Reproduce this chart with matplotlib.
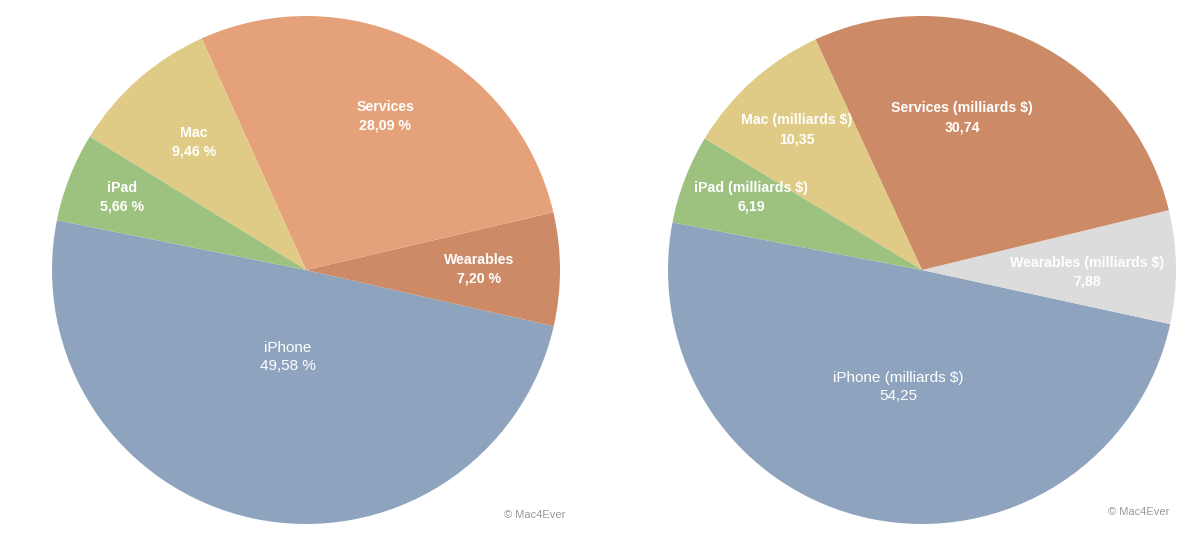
import numpy as np
import matplotlib.pyplot as plt

# segments in drawing order (counter-clockwise from the iPhone/iPad edge)
names = ["iPhone", "Wearables", "Services", "Mac", "iPad"]
share_pct = [49.58, 7.20, 28.09, 9.46, 5.66]
revenue_bn = [54.25, 7.88, 30.74, 10.35, 6.19]

share_labels = ["49,58 %", "7,20 %", "28,09 %", "9,46 %", "5,66 %"]
revenue_labels = ["54,25", "7,88", "30,74", "10,35", "6,19"]

colors_left = ["#8ea4be", "#cc8b66", "#e5a27a", "#dfcb86", "#9dc17f"]
colors_right = ["#8ea4be", "#dcdcdc", "#cc8b66", "#dfcb86", "#9dc17f"]

# label placement: radius fraction and angle offset (deg) per wedge
lab_r_left = [0.35, 0.68, 0.68, 0.67, 0.78]
lab_da_left = [0, 0, -1, 0, 0]
lab_r_right = [0.47, 0.65, 0.62, 0.74, 0.73]
lab_da_right = [0, -1.5, 11, 0, -2]

plt.rcParams['font.family'] = ['Liberation Sans', 'DejaVu Sans']

fig = plt.figure(figsize=(12, 5.48), dpi=100)
fig.patch.set_facecolor("white")


def draw_pie(rect, values, colors, titles, numbers, lab_r, lab_da, start):
    ax = fig.add_axes(rect)
    wedges, _ = ax.pie(values, colors=colors, startangle=start,
                       counterclock=True, radius=1.0,
                       wedgeprops=dict(linewidth=0))
    for w, t, n, r, da in zip(wedges, titles, numbers, lab_r, lab_da):
        mid = np.deg2rad((w.theta1 + w.theta2) / 2 + da)
        x, y = r * np.cos(mid), r * np.sin(mid)
        big = t.startswith("iPhone")
        fs = 11 if big else 10.2
        wt = "normal" if big else "bold"
        ax.text(x, y + 0.037, t, ha="center", va="center", color="white",
                fontsize=fs, fontweight=wt)
        ax.text(x, y - 0.037, n, ha="center", va="center", color="white",
                fontsize=fs, fontweight=wt)
    ax.set_xlim(-1, 1)
    ax.set_ylim(-1, 1)
    ax.set_aspect("equal")
    ax.axis("off")
    return ax


W, H = 1200, 548
R = 254
draw_pie([(306 - R) / W, (H - 270 - R) / H, 2 * R / W, 2 * R / H],
         share_pct, colors_left, names, share_labels,
         lab_r_left, lab_da_left, 168.7)

right_titles = [n + " (milliards $)" for n in names]
draw_pie([(922 - R) / W, (H - 270 - R) / H, 2 * R / W, 2 * R / H],
         revenue_bn, colors_right, right_titles, revenue_labels,
         lab_r_right, lab_da_right, 169.2)

fig.text(535 / W, 1 - 515 / H, "© Mac4Ever", ha="center", va="center",
         fontsize=8, color="#999999")
fig.text(1139 / W, 1 - 512 / H, "© Mac4Ever", ha="center", va="center",
         fontsize=8, color="#999999")

fig.savefig("out.png", dpi=100)
